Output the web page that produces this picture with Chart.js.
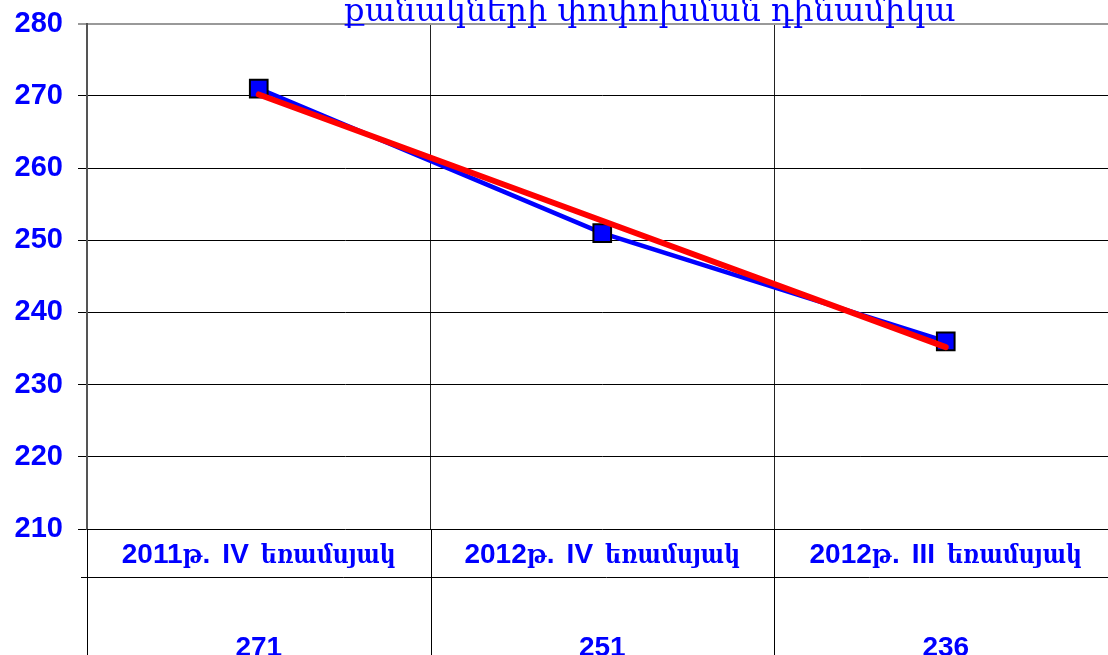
<!DOCTYPE html>
<html>
<head>
<meta charset="utf-8">
<script src="https://cdn.jsdelivr.net/npm/chart.js@4.4.1/dist/chart.umd.min.js"></script>
<style>
  html, body { margin: 0; padding: 0; background: #fff; overflow: hidden; }
  #wrap { width: 1108px; height: 655px; overflow: hidden; position: relative; }
  #box { width: 1132px; height: 700px; position: absolute; left: 0; top: 0; }
</style>
</head>
<body>
<div id="wrap"><div id="box"><canvas id="chart"></canvas></div></div>
<script>
const categories = ['2011թ. IV եռամսյակ', '2012թ. IV եռամսյակ', '2012թ. III եռամսյակ'];
const counts = [271, 251, 236];
const trend = [270.2, 252.7, 235.2];
const yTicks = [210, 220, 230, 240, 250, 260, 270, 280];
const title = 'քանակների փոփոխման դինամիկա';

const BLUE = '#0000ff';
const latinFont = "bold 28px 'Liberation Sans', Arial, sans-serif";
const armFont = "bold 26px 'DejaVu Serif', serif";
const ARM_SQUEEZE = 0.85;
const SPACE = 12;

// Armenian runs in a narrowed serif face, the rest in sans
function mixedText(ctx, text, cx, y) {
  const runs = text.match(/[\u0530-\u058F]+| +|[^\u0530-\u058F ]+/g);
  const isArm = r => /[\u0530-\u058F]/.test(r);
  const widthOf = r => {
    if (r.trim() === '') return SPACE * r.length;
    ctx.font = isArm(r) ? armFont : latinFont;
    return ctx.measureText(r).width * (isArm(r) ? ARM_SQUEEZE : 1);
  };
  const widths = runs.map(widthOf);
  let x = cx - widths.reduce((a, b) => a + b, 0) / 2;
  ctx.textAlign = 'left';
  runs.forEach((r, i) => {
    if (r.trim() !== '') {
      if (isArm(r)) {
        ctx.save();
        ctx.font = armFont;
        ctx.translate(x, y);
        ctx.scale(ARM_SQUEEZE, 1);
        ctx.fillText(r, 0, 0);
        ctx.restore();
      } else {
        ctx.font = latinFont;
        ctx.fillText(r, x, y);
      }
    }
    x += widths[i];
  });
}

// title and the data table under the plot
const tablePlugin = {
  id: 'table',
  afterDraw(chart) {
    const ctx = chart.ctx;
    const area = chart.chartArea;
    const x = chart.scales.x;
    const step = x.getPixelForValue(1) - x.getPixelForValue(0);
    const rowTop = area.bottom;
    const rowMid = rowTop + 48;
    ctx.save();

    ctx.fillStyle = BLUE;
    ctx.font = "32px 'DejaVu Serif', serif";
    ctx.textAlign = 'center';
    ctx.textBaseline = 'alphabetic';
    ctx.fillText(title, 650, 21);

    ctx.strokeStyle = '#000';
    ctx.lineWidth = 1;
    ctx.beginPath();
    ctx.moveTo(area.left - 6, rowMid + 0.5);
    ctx.lineTo(chart.width, rowMid + 0.5);
    for (let i = 0; i <= categories.length; i++) {
      const bx = Math.round(x.getPixelForValue(0) - step / 2 + i * step) + 0.5;
      ctx.moveTo(bx, rowTop);
      ctx.lineTo(bx, chart.height);
    }
    ctx.stroke();

    ctx.textBaseline = 'alphabetic';
    categories.forEach((c, i) => {
      const cx = x.getPixelForValue(i);
      mixedText(ctx, c, cx, rowTop + 34);
      ctx.font = latinFont;
      ctx.textAlign = 'center';
      ctx.fillText(String(counts[i]), cx, rowMid + 79);
    });
    ctx.restore();
  }
};

new Chart(document.getElementById('chart'), {
  type: 'line',
  data: {
    labels: categories,
    datasets: [
      {
        label: 'trend',
        data: trend,
        borderColor: '#ff0000',
        borderWidth: 6,
        borderCapStyle: 'round',
        pointRadius: 0,
        order: 0
      },
      {
        label: 'count',
        data: counts,
        borderColor: BLUE,
        borderWidth: 4.5,
        pointStyle: 'rect',
        pointRadius: 12.5,
        pointBackgroundColor: BLUE,
        pointBorderColor: '#000',
        pointBorderWidth: 2,
        order: 1
      }
    ]
  },
  options: {
    responsive: true,
    maintainAspectRatio: false,
    animation: false,
    layout: { padding: { top: 18, left: 0, right: 0, bottom: 0 } },
    plugins: {
      legend: { display: false },
      tooltip: { enabled: false }
    },
    scales: {
      x: {
        offset: true,
        grid: { offset: true, color: '#222', lineWidth: 1, drawTicks: false },
        border: { display: false },
        ticks: { display: false },
        afterFit(scale) { scale.height = 171; }
      },
      y: {
        min: yTicks[0],
        max: yTicks[yTicks.length - 1],
        afterBuildTicks(scale) { scale.ticks = yTicks.map(v => ({ value: v })); },
        grid: {
          color: ctx => ctx.tick && ctx.tick.value === 280 ? '#999' : '#000',
          lineWidth: ctx => ctx.tick && ctx.tick.value === 280 ? 2 : 1,
          tickLength: 9
        },
        border: { color: '#555', width: 2 },
        ticks: {
          color: BLUE,
          font: { family: "'Liberation Sans', Arial, sans-serif", size: 29, weight: 'bold', lineHeight: 0.6 },
          padding: 15
        },
        afterFit(scale) { scale.width = 87; }
      }
    }
  },
  plugins: [tablePlugin]
});
</script>
</body>
</html>
